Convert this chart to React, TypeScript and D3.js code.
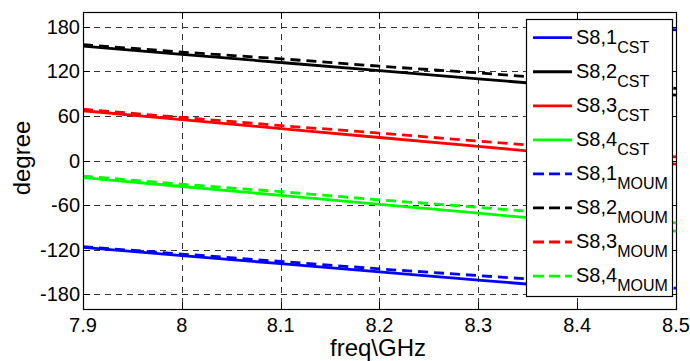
import React from "react";
import * as d3 from "d3";

const freq = [7.9, 8.0, 8.1, 8.2, 8.3, 8.4, 8.5];
const freqS81cst = [7.9, 8.0, 8.1, 8.2, 8.3, 8.4, 8.46, 8.47, 8.5];

const s81cst = [-117, -128, -139, -150, -161, -172, -179.6, 179.3, 176];
const s82cst = [154, 143, 132, 121, 110, 99, 88];
const s83cst = [67, 55, 43, 31, 19, 7, -5];
const s84cst = [-23, -35, -47, -59, -71, -83, -95];
const s81moum = [-116, -126, -136, -146, -155, -164, -172];
const s82moum = [156, 146, 137, 127, 118, 108, 97];
const s83moum = [69, 58, 47, 37, 26, 16, 5];
const s84moum = [-21, -32, -42, -53, -63, -74, -84];

const xTicks = [7.9, 8.0, 8.1, 8.2, 8.3, 8.4, 8.5];
const xTickLabels = ["7.9", "8", "8.1", "8.2", "8.3", "8.4", "8.5"];
const yTicks = [-180, -120, -60, 0, 60, 120, 180];
const yTickLabels = ["-180", "-120", "-60", "0", "60", "120", "180"];

const seriesNames = ["S8,1", "S8,2", "S8,3", "S8,4", "S8,1", "S8,2", "S8,3", "S8,4"];
const seriesSubs = ["CST", "CST", "CST", "CST", "MOUM", "MOUM", "MOUM", "MOUM"];
const seriesColors = ["#0000ff", "#000000", "#ff0000", "#00ff00", "#0000ff", "#000000", "#ff0000", "#00ff00"];
const seriesDashed = [false, false, false, false, true, true, true, true];
const seriesX = [freqS81cst, freq, freq, freq, freq, freq, freq, freq];
const seriesY = [s81cst, s82cst, s83cst, s84cst, s81moum, s82moum, s83moum, s84moum];

const FONT = "'Liberation Sans', Arial, Helvetica, sans-serif";

export default function App() {
  const L = 83, R = 676, T = 12, B = 309;
  const x = d3.scaleLinear().domain([7.9, 8.5]).range([L, R]);
  const y = d3.scaleLinear().domain([-200, 200]).range([B, T]);
  const tick = 7;
  const dash = "10,6";
  const gridDash = "6,5";

  const line = (xs: number[], ys: number[]) =>
    d3.line<number>().x((_, i) => x(xs[i])).y((d) => y(d))(ys) || "";

  const legX = 526, legY = 19, legW = 146, legH = 277;
  const rowH = 34.05;
  const row0 = 37.7;

  return (
    <svg
      width={690}
      height={361}
      style={{ position: "absolute", left: 0, top: 0, background: "#fff" }}
      fontFamily={FONT}
    >
      <rect x={0} y={0} width={690} height={361} fill="#fff" />
      <defs>
        <clipPath id="plotclip">
          <rect x={L} y={T} width={R - L} height={B - T} />
        </clipPath>
      </defs>
      {/* grid */}
      {xTicks.slice(1, -1).map((t) => (
        <line key={"gx" + t} x1={Math.round(x(t)) + 0.5} x2={Math.round(x(t)) + 0.5} y1={T} y2={B}
          stroke="#333" strokeWidth={1} strokeDasharray={gridDash} />
      ))}
      {yTicks.map((t) => (
        <line key={"gy" + t} x1={L} x2={R} y1={Math.round(y(t)) + 0.5} y2={Math.round(y(t)) + 0.5}
          stroke="#333" strokeWidth={1} strokeDasharray={gridDash} />
      ))}
      {/* data */}
      <g clipPath="url(#plotclip)">
        {seriesY.map((ys, i) => (
          <path key={"s" + i} d={line(seriesX[i], ys)} fill="none" stroke={seriesColors[i]}
            strokeWidth={2.8} strokeDasharray={seriesDashed[i] ? dash : undefined} />
        ))}
      </g>
      {/* ticks */}
      {xTicks.map((t) => (
        <g key={"tx" + t}>
          <line x1={Math.round(x(t)) + 0.5} x2={Math.round(x(t)) + 0.5} y1={B} y2={B - tick} stroke="#000" />
          <line x1={Math.round(x(t)) + 0.5} x2={Math.round(x(t)) + 0.5} y1={T} y2={T + tick} stroke="#000" />
        </g>
      ))}
      {yTicks.map((t) => (
        <g key={"ty" + t}>
          <line x1={L} x2={L + tick} y1={Math.round(y(t)) + 0.5} y2={Math.round(y(t)) + 0.5} stroke="#000" />
          <line x1={R} x2={R - tick} y1={Math.round(y(t)) + 0.5} y2={Math.round(y(t)) + 0.5} stroke="#000" />
        </g>
      ))}
      {/* axes box */}
      <rect x={L + 0.5} y={T + 0.5} width={R - L} height={B - T} fill="none" stroke="#000" strokeWidth={1.2} />
      {/* tick labels */}
      {xTicks.map((t, i) => (
        <text key={"lx" + t} x={x(t)} y={332} textAnchor="middle" fontSize={20} fill="#000">
          {xTickLabels[i]}
        </text>
      ))}
      {yTicks.map((t, i) => (
        <text key={"ly" + t} x={80} y={y(t) + 7} textAnchor="end" fontSize={20} fill="#000">
          {yTickLabels[i]}
        </text>
      ))}
      {/* axis labels */}
      <text x={378} y={356} textAnchor="middle" fontSize={24} fill="#000">freq\GHz</text>
      <text transform={`translate(30,158) rotate(-90)`} textAnchor="middle" fontSize={24} fill="#000">degree</text>
      {/* legend */}
      <rect x={legX + 0.5} y={legY + 0.5} width={legW} height={legH} fill="#fff" stroke="#000" strokeWidth={1.2} />
      {seriesNames.map((n, i) => {
        const cy = row0 + i * rowH;
        return (
          <g key={"lg" + i}>
            <line x1={533} x2={572} y1={cy} y2={cy} stroke={seriesColors[i]} strokeWidth={2.8}
              strokeDasharray={seriesDashed[i] ? "11,5" : undefined} />
            <text x={576} y={cy + 6} fontSize={20} fill="#000">
              {n}
              <tspan fontSize={16} dy={9}>{seriesSubs[i]}</tspan>
            </text>
          </g>
        );
      })}
    </svg>
  );
}
